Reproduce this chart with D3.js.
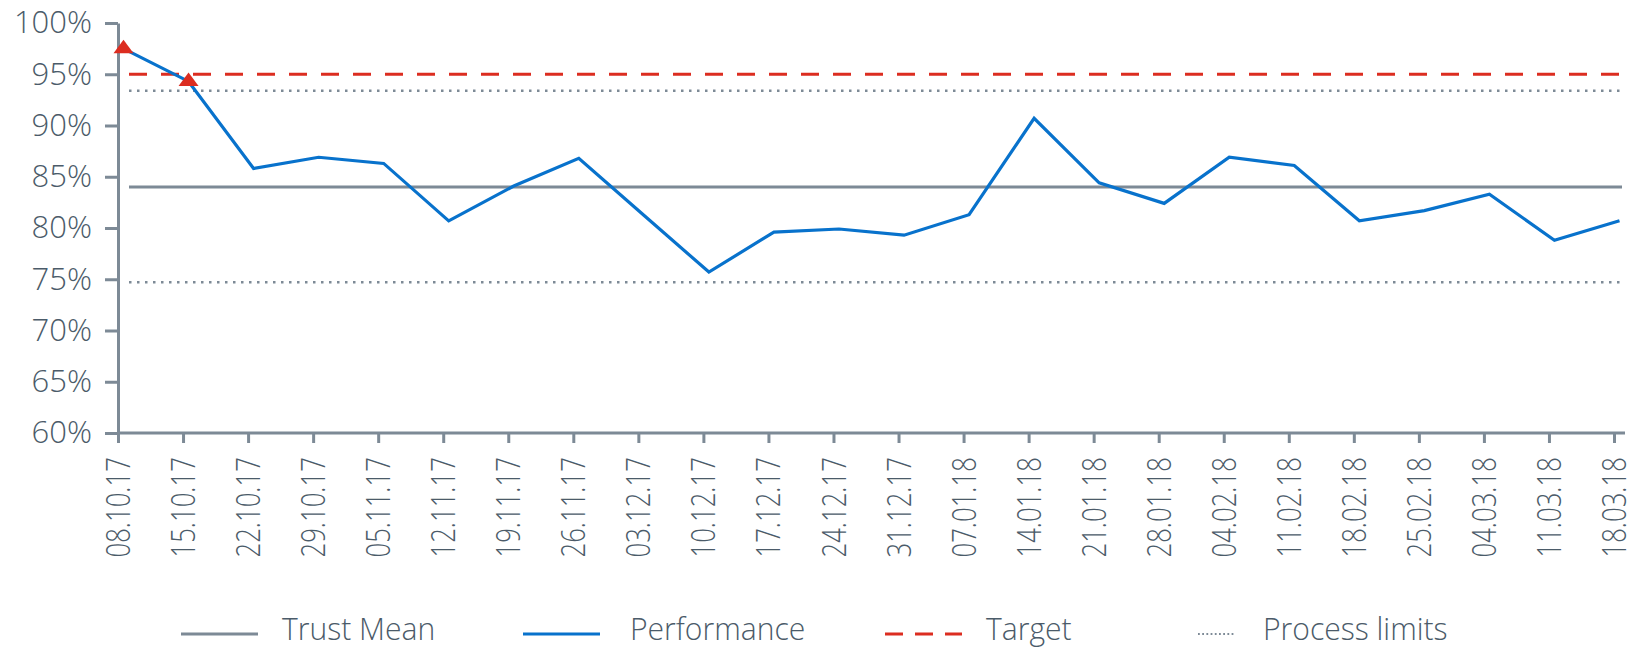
<!DOCTYPE html>
<html>
<head>
<meta charset="utf-8">
<script src="https://cdn.jsdelivr.net/npm/d3@7"></script>
<style>
  html, body { margin: 0; padding: 0; background: #fff; }
  svg { display: block; font-family: "Open Sans", sans-serif; font-weight: 300; }
</style>
</head>
<body>
<svg id="chart" width="1647" height="649"></svg>
<script>
// weekly dates (x categories)
var weeks = ['08.10.17', '15.10.17', '22.10.17', '29.10.17', '05.11.17', '12.11.17', '19.11.17',
  '26.11.17', '03.12.17', '10.12.17', '17.12.17', '24.12.17', '31.12.17', '07.01.18', '14.01.18',
  '21.01.18', '28.01.18', '04.02.18', '11.02.18', '18.02.18', '25.02.18', '04.03.18', '11.03.18', '18.03.18'];

// performance, %
var performance = [97.5, 94.3, 85.8, 86.9, 86.3, 80.7, 84.1, 86.8, 81.25, 75.7, 79.6, 79.9,
  79.3, 81.3, 90.7, 84.4, 82.4, 86.9, 86.1, 80.7, 81.7, 83.3, 78.8, 80.7];

var trustMean = 84.0;
var target = 95;
var processLimits = [93.4, 74.7];

var yTicks = [60, 65, 70, 75, 80, 85, 90, 95, 100];

var legendItems = ['Trust Mean', 'Performance', 'Target', 'Process limits'];

// --- layout / style
var axisColor = '#7d8a96'
  , textColor = '#4b5b69'
  , blue = '#0872cc'
  , red = '#dc2d20'
  , font = '"Open Sans", sans-serif'
  , xShift = 5.5   // data points sit a little right of the ticks
  ;

var svg = d3.select('#chart');

var x = d3.scalePoint().domain(weeks).range([118, 1614]);
var y = d3.scaleLinear().domain([60, 100]).range([433, 23]);

function px(d, i) { return x(weeks[i]) + xShift; }

// y axis
var yAxis = svg.append('g')
    .attr('transform', 'translate(118,0)')
    .call(d3.axisLeft(y).tickValues(yTicks).tickFormat(function (d) { return d + '%'; })
      .tickSize(13).tickSizeOuter(0).tickPadding(13))
    .attr('font-family', font);

yAxis.selectAll('path, line').attr('stroke', axisColor).attr('stroke-width', 3);
yAxis.selectAll('text')
    .attr('fill', textColor)
    .style('font-size', '31px');

// x axis
var xAxis = svg.append('g')
    .attr('transform', 'translate(0,433)')
    .call(d3.axisBottom(x).tickSize(10).tickSizeOuter(0))
    .attr('font-family', font);

xAxis.select('.domain').remove();
xAxis.append('line')
    .attr('x1', 118).attr('x2', 1625)
    .attr('stroke', axisColor).attr('stroke-width', 3);
xAxis.selectAll('.tick line').attr('stroke', axisColor).attr('stroke-width', 3);
xAxis.selectAll('text')
    .attr('transform', 'rotate(-90) scale(0.78,1)')
    .attr('x', -31)
    .attr('y', 0)
    .attr('dy', '0.35em')
    .attr('fill', textColor)
    .style('text-anchor', 'end')
    .style('font-size', '33px');

// reference lines
var x0 = x(weeks[0]) + xShift + 5.5
  , x1 = x(weeks[weeks.length - 1]) + xShift + 2.5;

svg.append('line')
    .attr('x1', x0).attr('x2', x1)
    .attr('y1', y(trustMean)).attr('y2', y(trustMean))
    .attr('stroke', axisColor).attr('stroke-width', 3);

svg.selectAll('.limit')
    .data(processLimits)
  .enter().append('line')
    .attr('class', 'limit')
    .attr('x1', x0).attr('x2', x1)
    .attr('y1', function (d) { return y(d); })
    .attr('y2', function (d) { return y(d); })
    .attr('stroke', axisColor).attr('stroke-width', 2.5)
    .attr('stroke-dasharray', '2.5,5.5');

svg.append('line')
    .attr('x1', x0).attr('x2', x1)
    .attr('y1', y(target)).attr('y2', y(target))
    .attr('stroke', red).attr('stroke-width', 3.2)
    .attr('stroke-dasharray', '18,14');

// performance line
var line = d3.line()
    .x(px)
    .y(function (d) { return y(d); });

svg.append('path')
    .datum(performance)
    .attr('d', line)
    .attr('fill', 'none')
    .attr('stroke', blue)
    .attr('stroke-width', 3.2)
    .attr('stroke-linejoin', 'miter');

// markers where above upper process limit
var flagged = performance.map(function (d, i) { return {v: d, i: i}; })
    .filter(function (d) { return d.v > processLimits[0]; });

svg.selectAll('.flag')
    .data(flagged)
  .enter().append('path')
    .attr('class', 'flag')
    .attr('transform', function (d) { return 'translate(' + px(d.v, d.i) + ',' + y(d.v) + ')'; })
    .attr('d', 'M0,-9L10,4.5L-10,4.5Z')
    .attr('fill', red);

// legend
var legendX = [181, 523, 885, 1198]
  , legendY = 634
  ;

var leg = svg.selectAll('.legend')
    .data(legendItems)
  .enter().append('g')
    .attr('class', 'legend')
    .attr('transform', function (d, i) { return 'translate(' + legendX[i] + ',' + legendY + ')'; });

leg.append('line')
    .attr('x1', 0)
    .attr('x2', function (d, i) { return i === 3 ? 37 : 77; })
    .attr('stroke', function (d, i) { return i === 1 ? blue : i === 2 ? red : axisColor; })
    .attr('stroke-width', function (d, i) { return i === 3 ? 1.8 : 3; })
    .attr('stroke-dasharray', function (d, i) { return i === 2 ? '18,12' : i === 3 ? '1.8,2.4' : null; });

leg.append('text')
    .text(function (d) { return d; })
    .attr('transform', function (d, i) { return 'translate(' + (i === 3 ? 65 : i === 2 ? 101 : i === 1 ? 107 : 101) + ',6) scale(0.94,1)'; })
    .attr('fill', textColor)
    .style('font-size', '32px');
</script>
</body>
</html>
